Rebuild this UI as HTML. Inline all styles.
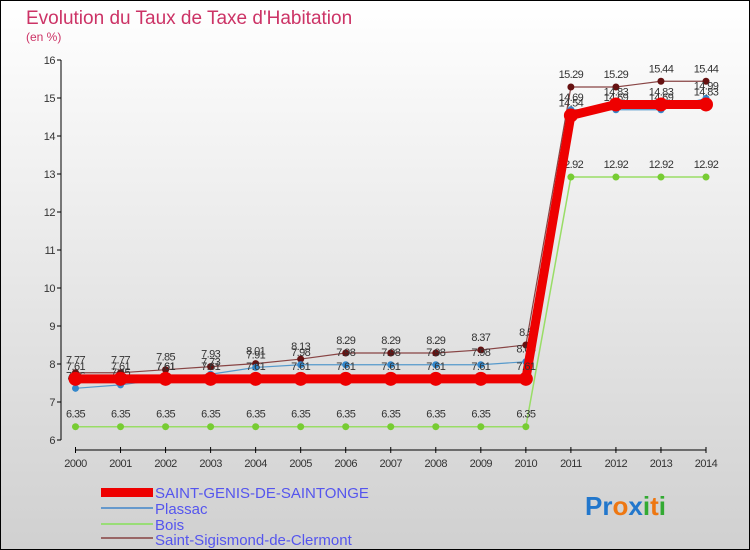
<!DOCTYPE html>
<html><head><meta charset="utf-8"><style>
body{margin:0;}
svg{display:block;font-family:"Liberation Sans",sans-serif;}
</style></head><body>
<svg id="c" width="750" height="550" viewBox="0 0 750 550">
<defs><linearGradient id="bg" x1="0" y1="0" x2="0" y2="1"><stop offset="0" stop-color="#ffffff"/><stop offset="1" stop-color="#d0d0d0"/></linearGradient></defs>
<rect x="0.5" y="0.5" width="749" height="549" fill="url(#bg)" stroke="#000"/>
<text x="26" y="24" font-size="19" fill="#cc3366">Evolution du Taux de Taxe d'Habitation</text>
<text x="26" y="41" font-size="12" fill="#cc3366">(en %)</text>
<g id="axes"></g><g id="series"></g>
<g>
<rect x="101" y="488" width="52" height="9" fill="#ee0000"/>
<text x="155" y="498" font-size="15" fill="#5555ee">SAINT-GENIS-DE-SAINTONGE</text>
<line x1="101" y1="508" x2="153" y2="508" stroke="#6699cc" stroke-width="2"/>
<text x="155" y="514" font-size="15" fill="#5555ee">Plassac</text>
<line x1="101" y1="524" x2="153" y2="524" stroke="#99dd77" stroke-width="2"/>
<text x="155" y="530" font-size="15" fill="#5555ee">Bois</text>
<line x1="101" y1="538" x2="153" y2="538" stroke="#996666" stroke-width="2"/>
<text x="155" y="545" font-size="15" fill="#5555ee">Saint-Sigismond-de-Clermont</text>
</g>
<text x="585" y="515" font-size="26" font-weight="bold"><tspan fill="#2277cc">Pr</tspan><tspan fill="#ee7711">o</tspan><tspan fill="#2277cc">x</tspan><tspan fill="#33aa33">i</tspan><tspan fill="#ee7711">t</tspan><tspan fill="#33aa33">i</tspan></text>
</svg>
<script>
const years=[2000,2001,2002,2003,2004,2005,2006,2007,2008,2009,2010,2011,2012,2013,2014];
const yTicks=[6,7,8,9,10,11,12,13,14,15,16];
const saintGenis=[7.61,7.61,7.61,7.61,7.61,7.61,7.61,7.61,7.61,7.61,7.61,14.54,14.83,14.83,14.83];
const plassac=[7.36,7.45,7.61,7.73,7.91,7.98,7.98,7.98,7.98,7.98,8.06,14.69,14.69,14.69,14.99];
const bois=[6.35,6.35,6.35,6.35,6.35,6.35,6.35,6.35,6.35,6.35,6.35,12.92,12.92,12.92,12.92];
const sigismond=[7.77,7.77,7.85,7.93,8.01,8.13,8.29,8.29,8.29,8.37,8.5,15.29,15.29,15.44,15.44];
const NS='http://www.w3.org/2000/svg';
function X(i){return 75.5+(706-75.5)*i/(years.length-1);}
function Y(v){return 440-(v-6)*38;}
function mk(t,a,p){const e=document.createElementNS(NS,t);for(const k in a)e.setAttribute(k,a[k]);p.appendChild(e);return e;}
const ax=document.getElementById('axes');
let l=mk('line',{x1:61,y1:Y(16),x2:61,y2:Y(6),stroke:'#000'},ax);


l=mk('line',{x1:X(0),y1:450,x2:X(14),y2:450,stroke:'#000'},ax);


yTicks.forEach(v=>{
  mk('line',{x1:57,y1:Y(v),x2:61,y2:Y(v),stroke:'#000'},ax);
  const t=mk('text',{x:55,y:Y(v)+4,'font-size':11,fill:'#333','text-anchor':'end','letter-spacing':'-0.5'},ax);
  t.textContent=v;
  
  
});
years.forEach((yr,i)=>{
  mk('line',{x1:X(i),y1:447,x2:X(i),y2:453,stroke:'#000'},ax);
  const t=mk('text',{x:X(i),y:467,'font-size':11,fill:'#333','text-anchor':'middle','letter-spacing':'-0.5'},ax);
  t.textContent=yr;
  
  
});
const sg=document.getElementById('series');
function draw(vals,name,color,w,r,dot,showLabels){
  const g=mk('g',{},sg);
  
  
  const p=mk('polyline',{points:vals.map((v,i)=>X(i)+','+Y(v)).join(' '),fill:'none',stroke:color,'stroke-width':w},g);
  
  
  vals.forEach((v,i)=>{
    const c=mk('circle',{cx:X(i),cy:Y(v),r:r,fill:dot},g);
    
    
    if(showLabels){
      const t=mk('text',{x:X(i),y:Y(v)-9,'font-size':11,fill:'#333','text-anchor':'middle','letter-spacing':'-0.6'},g);
      t.textContent=v;
      
      
    }
  });
}
draw(bois,'bois','#99dd66',1.5,3.5,'#77cc33',true);
draw(sigismond,'saint-sigismond','#884444',1.2,3.5,'#661111',true);
draw(plassac,'plassac','#5599cc',1.2,3.5,'#3388cc',true);
draw(saintGenis,'saint-genis','#ee0000',9,7,'#ee0000',false);
saintGenis.forEach((v,i)=>{
  const t=mk('text',{x:X(i),y:Y(v)-9,'font-size':11,fill:'#333','text-anchor':'middle','letter-spacing':'-0.6'},sg);
  t.textContent=v;
  
  
});
</script>
</body></html>
